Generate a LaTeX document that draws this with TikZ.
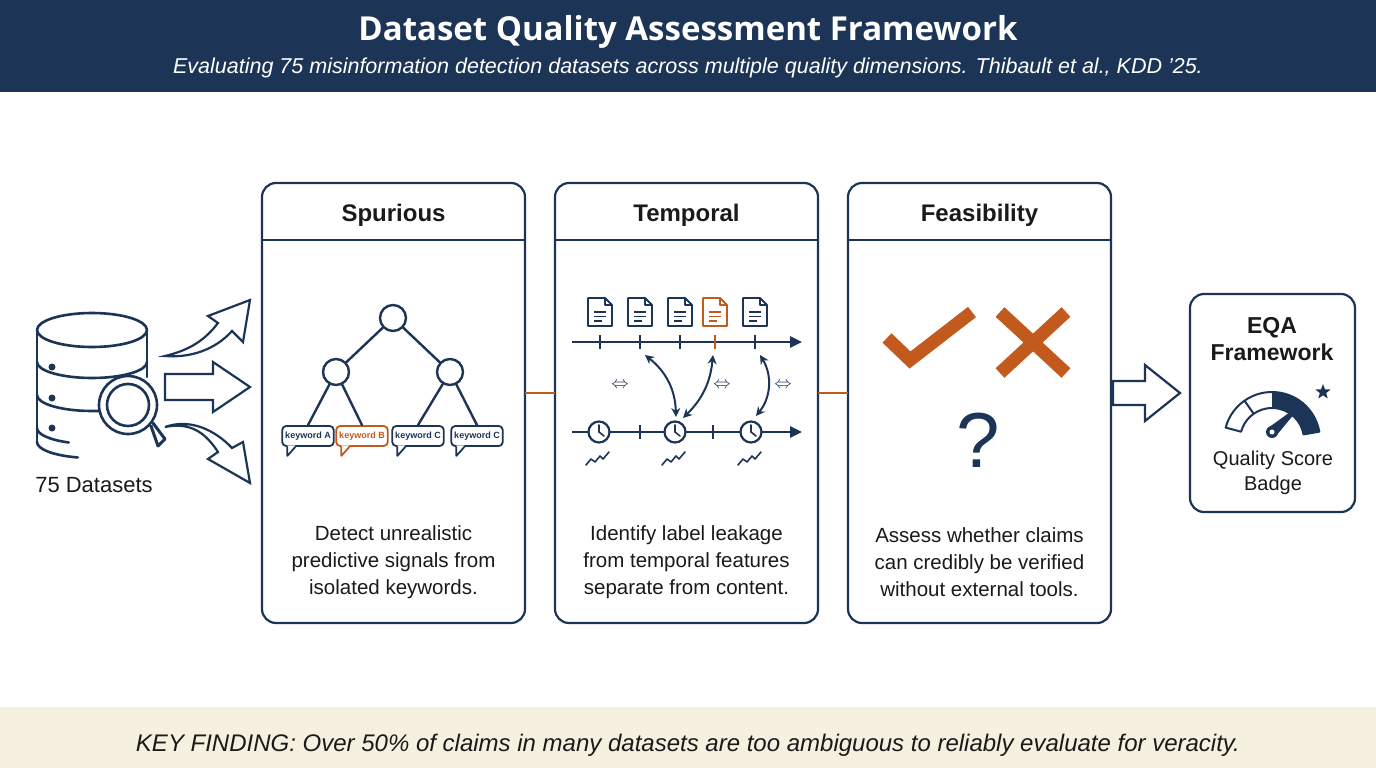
\documentclass[tikz,border=0pt]{standalone}
\usepackage{fontspec}
\setmainfont{Liberation Sans}
\newfontfamily\titlefont{Open Sans}
\usetikzlibrary{arrows.meta,shapes.geometric,calc}
\definecolor{navy}{HTML}{1C3557}
\definecolor{ora}{HTML}{C25A1E}
\definecolor{beige}{HTML}{F5F0E0}
\definecolor{txt}{HTML}{1A1A1A}
\begin{document}
\begin{tikzpicture}[x=1pt,y=-1pt,
  panel/.style={draw=navy,line width=2.2pt,rounded corners=14pt},
  ptitle/.style={font=\fontsize{24}{28}\selectfont\bfseries,text=txt},
  desc/.style={font=\fontsize{20.5}{27}\selectfont,text=txt,align=center},
  ic/.style={draw=navy,line width=2.6pt,line cap=round,line join=round},
  kw/.style={draw=navy,line width=1.8pt,rounded corners=4pt,fill=white,font=\fontsize{9}{10}\selectfont\bfseries,text=navy,inner sep=3pt,minimum height=20pt},
  doc/.style={draw=navy,line width=1.8pt,line join=round}]
\useasboundingbox (0,0) rectangle (1376,768);
\fill[white] (0,0) rectangle (1376,768);
% header
\fill[navy] (0,0) rectangle (1376,92);
\node (title) at (688,32) {\titlefont\fontsize{33}{40}\selectfont\bfseries\color{white} Dataset Quality Assessment Framework};
\node (sub) at (688,68) {\fontsize{21.5}{26}\selectfont\itshape\color{white} Evaluating 75 misinformation detection datasets across multiple quality dimensions. Thibault et al., KDD ’25.};
% footer
\fill[beige] (0,707) rectangle (1376,768);
\node (kf) at (688,745) {\fontsize{24}{28}\selectfont\itshape\color{txt} KEY FINDING: Over 50\% of claims in many datasets are too ambiguous to reliably evaluate for veracity.};
% panels
\foreach \n/\x/\t in {sp/262/Spurious,te/555/Temporal,fe/848/Feasibility}{
  \draw[panel] (\x,183) rectangle ++(263,440);
  \draw[navy,line width=2.2pt] (\x,240) -- ++(263,0);
  \node[ptitle] (\n t) at (\x+131.5,215) {\t};
}
\coordinate (c1a) at (525,393); \coordinate (c1b) at (555,393);
\coordinate (c2a) at (818,393); \coordinate (c2b) at (848,393);
\draw[ora,line width=2pt] (c1a) -- (c1b);
\draw[ora,line width=2pt] (c2a) -- (c2b);
\node[desc] (d1) at (393.5,562) {Detect unrealistic\\predictive signals from\\isolated keywords.};
\node[desc] (d2) at (686.5,562) {Identify label leakage\\from temporal features\\separate from content.};
\node[desc] (d3) at (979.5,562) {Assess whether claims\\can credibly be verified\\without external tools.};
% database
\begin{scope}[ic]
\draw (92,330) ellipse[x radius=55,y radius=17];
\draw (37,330) -- (37,442);
\draw (147,330) -- (147,377);
\draw (37,362) arc[start angle=180,end angle=0,x radius=55,y radius=16];
\draw (37,395) arc[start angle=180,end angle=90,x radius=55,y radius=16] -- (100,411);
\draw (37,428) arc[start angle=180,end angle=115,x radius=55,y radius=16];
\draw (37,442) arc[start angle=180,end angle=105,x radius=55,y radius=16];
\end{scope}
\foreach \yy in {367,398,428} \fill[navy] (52,\yy) circle (3.5);
\draw[ic,line width=3pt,fill=white] (151,426) -- (158,446) -- (165,439) -- (153,423);
\draw[ic,fill=white] (128,405) circle (29);
\draw[ic] (128,405) circle (21);
\node[font=\fontsize{22}{26}\selectfont,text=txt] (ds) at (94,485) {75 Datasets};
% block arrows
\draw[navy,line width=2.2pt,line join=miter] (165,356) .. controls (190,350) and (205,340) .. (218,323) -- (208,316) -- (250,300) -- (243,342) -- (232,331) .. controls (215,350) and (190,358) .. cycle;
\draw[navy,line width=2.2pt,line join=miter] (165,374) -- (213,374) -- (213,362) -- (250,387) -- (213,412) -- (213,400) -- (165,400) -- cycle;
\draw[navy,line width=2.2pt,line join=miter] (165,427) .. controls (190,422) and (205,432) .. (218,452) -- (208,459) -- (250,483) -- (243,442) -- (232,448) .. controls (215,430) and (190,418) .. cycle;
\draw[navy,line width=2.2pt,line join=miter] (1113,381) -- (1145,381) -- (1145,365) -- (1180,393) -- (1145,421) -- (1145,405) -- (1113,405) -- cycle;
% tree
\begin{scope}[ic,line width=2.4pt]
\node[draw=navy,line width=2.4pt,circle,minimum size=26pt,inner sep=0] (r) at (393,318) {};
\node[draw=navy,line width=2.4pt,circle,minimum size=26pt,inner sep=0] (l) at (336,372) {};
\node[draw=navy,line width=2.4pt,circle,minimum size=26pt,inner sep=0] (rr) at (450,372) {};
\node[kw] (k1) at (308,436) {keyword A};
\node[kw,draw=ora,text=ora] (k2) at (362,436) {keyword B};
\node[kw] (k3) at (418,436) {keyword C};
\node[kw] (k4) at (477,436) {keyword C};
\draw (r) -- (l); \draw (r) -- (rr);
\draw (l) -- (k1.north); \draw (l) -- (k2.north);
\draw (rr) -- (k3.north); \draw (rr) -- (k4.north);
\end{scope}
\foreach \k/\c in {k1/navy,k2/ora,k3/navy,k4/navy}{
  \fill[white] ($(\k.south west)+(6,-1.5)$) -- ($(\k.south west)+(6,9)$) -- ($(\k.south west)+(14,-1.5)$) -- cycle;
  \draw[\c,line width=1.8pt,line join=round] ($(\k.south west)+(6,-0.5)$) -- ($(\k.south west)+(6,9)$) -- ($(\k.south west)+(14,0)$);
}
% temporal
\coordinate (t1s) at (572,342); \coordinate (t1e) at (802,342);
\coordinate (t2s) at (572,432); \coordinate (t2e) at (802,432);
\draw[navy,line width=2.6pt,-{Triangle[length=12pt,width=11pt]}] (t1s) -- (t1e);
\draw[navy,line width=2.6pt,-{Triangle[length=12pt,width=11pt]}] (t2s) -- (t2e);
\foreach \xx in {600,640,680,755} \draw[navy,line width=2.2pt] (\xx,335) -- (\xx,349);
\draw[ora,line width=2.2pt] (715,335) -- (715,349);
\foreach \xx/\c in {600/navy,640/navy,680/navy,715/ora,755/navy}{
  \draw[doc,draw=\c] (\xx-12,298) -- (\xx+5,298) -- (\xx+12,305) -- (\xx+12,326) -- (\xx-12,326) -- cycle;
  \draw[doc,draw=\c,line width=1.2pt] (\xx+5,298) -- (\xx+5,305) -- (\xx+12,305);
  \draw[\c,line width=1.3pt] (\xx-6,312) -- (\xx+6,312) (\xx-6,316.5) -- (\xx+6,316.5) (\xx-6,321) -- (\xx+2,321);
}
\foreach \xx in {640,713} \draw[navy,line width=2.2pt] (\xx,425) -- (\xx,439);
\foreach \xx in {599,675,751}{
  \node[draw=navy,line width=2.2pt,circle,fill=white,minimum size=21pt,inner sep=0] (clk\xx) at (\xx,432) {};
  \draw[navy,line width=1.6pt,line cap=round] (\xx,425) -- (\xx,432) -- (\xx+5,436);
  \draw[navy,line width=1.6pt,line cap=round,line join=round] (\xx-13,465) -- (\xx-8,459) -- (\xx-4,462) -- (\xx+1,456) -- (\xx+4,459) -- (\xx+10,452);
}
\coordinate (a1s) at (645,355); \coordinate (a1e) at (676,417);
\coordinate (a2s) at (713,355); \coordinate (a2e) at (683,418);
\coordinate (a3s) at (760,355); \coordinate (a3e) at (756,416);
\tikzset{dbl/.style={navy,line width=2pt,{Stealth[length=9pt,width=9pt]}-{Stealth[length=9pt,width=9pt]}}}
\draw[dbl] (a1s) to[bend left=25] (a1e);
\draw[dbl] (a2s) to[bend left=20] (a2e);
\draw[dbl] (a3s) to[bend left=35] (a3e);
\foreach \xx in {620,722,783} \node[text=navy,font=\fontsize{18}{18}\selectfont] at (\xx,385) {$\Leftrightarrow$};
% feasibility
\draw[ora,line width=13pt,line join=miter] (887,338) -- (910,360) -- (972,312);
\draw[ora,line width=13pt] (1000,312) -- (1066,373) (1066,312) -- (1000,373);
\node[text=navy,font=\fontsize{78}{78}\selectfont] (q) at (978,440) {?};
% badge
\draw[panel] (1190,294) rectangle (1355,512);
\node[font=\fontsize{23}{27}\selectfont\bfseries,text=txt,align=center] (eqa) at (1272,339) {EQA\\Framework};
\node[font=\fontsize{20}{25}\selectfont,text=txt,align=center] (qsb) at (1273,473) {Quality Score\\Badge};
\coordinate (g) at (1272,440);
\fill[navy] ($(g)+(-90:48)$) arc[start angle=-90,end angle=-10,radius=48] -- ($(g)+(-10:32)$) arc[start angle=-10,end angle=-90,radius=32] -- cycle;
\draw[navy,line width=2pt,line join=round] ($(g)+(-165:48)$) arc[start angle=-165,end angle=-10,radius=48] -- ($(g)+(-10:32)$) arc[start angle=-10,end angle=-165,radius=32] -- cycle;
\draw[navy,line width=2pt] ($(g)+(-125:32)$) -- ($(g)+(-125:48)$);
\fill[navy] (1272,432) circle (6);
\fill[navy] (1268,428) -- (1304,402) -- (1276,436) -- cycle;
\fill[white] (1272,432) circle (2.5);
\node[star,star points=5,star point ratio=2.4,fill=navy,inner sep=0,minimum size=16pt] (st) at (1323,392) {};
\end{tikzpicture}
\end{document}
